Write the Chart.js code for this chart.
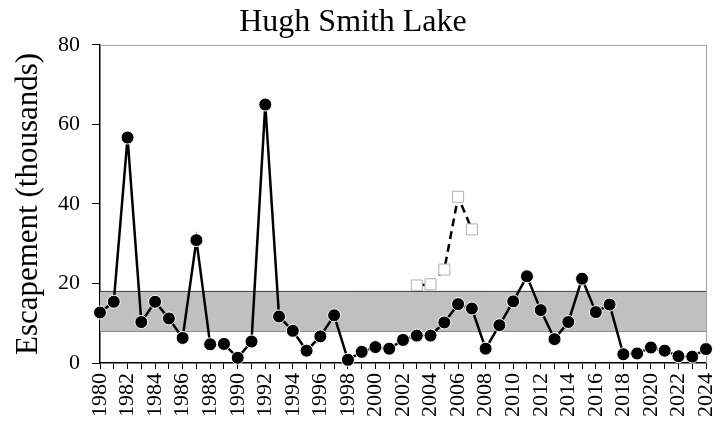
<!DOCTYPE html>
<html>
<head>
<meta charset="utf-8">
<title>Hugh Smith Lake</title>
<script src="https://cdn.jsdelivr.net/npm/chart.js@4"></script>
<style>
  html, body { margin: 0; padding: 0; background: #fff; }
  #wrap { width: 726px; height: 421px; position: relative; }
</style>
</head>
<body>
<div id="wrap"><canvas id="chart"></canvas></div>
<script>
// Escapement, thousands of fish, by year
const years = [
  1980, 1981, 1982, 1983, 1984, 1985, 1986, 1987, 1988, 1989,
  1990, 1991, 1992, 1993, 1994, 1995, 1996, 1997, 1998, 1999,
  2000, 2001, 2002, 2003, 2004, 2005, 2006, 2007, 2008, 2009,
  2010, 2011, 2012, 2013, 2014, 2015, 2016, 2017, 2018, 2019,
  2020, 2021, 2022, 2023, 2024
];
const escapement = [
  12.7, 15.4, 56.7, 10.3, 15.4, 11.2, 6.3, 30.9, 4.7, 4.8,
  1.3, 5.4, 65.0, 11.7, 8.1, 3.1, 6.7, 12.0, 0.8, 2.8,
  4.0, 3.6, 5.8, 6.9, 6.9, 10.2, 14.8, 13.7, 3.6, 9.5,
  15.5, 21.8, 13.3, 6.0, 10.3, 21.2, 12.8, 14.7, 2.2, 2.4,
  3.9, 3.1, 1.7, 1.6, 3.5
];

// Dashed series with open squares
const altYears = [2003, 2004, 2005, 2006, 2007];
const altValues = [19.5, 19.8, 23.5, 41.8, 33.6];

// Escapement goal range
const goalLower = 8;
const goalUpper = 18;

const yTicks = [0, 20, 40, 60, 80];

const SERIF = "'Liberation Serif', 'Times New Roman', serif";

// Light gray frame on top / right of the plot area
const framePlugin = {
  id: 'frame',
  beforeDatasetsDraw(chart) {
    const { ctx, chartArea } = chart;
    ctx.save();
    ctx.strokeStyle = '#a0a0a0';
    ctx.lineWidth = 1;
    ctx.beginPath();
    ctx.moveTo(chartArea.left, chartArea.top + 0.5);
    ctx.lineTo(chartArea.right + 0.5, chartArea.top + 0.5);
    ctx.lineTo(chartArea.right + 0.5, chartArea.bottom);
    ctx.stroke();
    ctx.restore();
  }
};

const toPoints = (xs, ys) => xs.map((x, i) => ({ x, y: ys[i] }));
const first = years[0], last = years[years.length - 1];

new Chart(document.getElementById('chart'), {
  type: 'line',
  data: {
    datasets: [
      {
        label: 'Alternate',
        data: toPoints(altYears, altValues),
        borderColor: '#000',
        borderWidth: 2.5,
        borderDash: [8, 5],
        pointStyle: 'rect',
        pointRadius: 7.8,
        pointBackgroundColor: '#fff',
        pointBorderColor: '#b0b0b0',
        pointBorderWidth: 1,
        order: 3,
        clip: false
      },
      {
        label: 'Goal upper',
        data: [{ x: first, y: goalUpper }, { x: last, y: goalUpper }],
        borderColor: '#404040',
        borderWidth: 1,
        pointRadius: 0,
        fill: '+1',
        backgroundColor: '#c0c0c0',
        order: 2
      },
      {
        label: 'Goal lower',
        data: [{ x: first, y: goalLower }, { x: last, y: goalLower }],
        borderColor: '#404040',
        borderWidth: 1,
        pointRadius: 0,
        fill: false,
        order: 2
      },
      {
        label: 'Escapement',
        data: toPoints(years, escapement),
        borderColor: '#000',
        borderWidth: 2.5,
        pointRadius: 6.5,
        pointBackgroundColor: '#000',
        pointBorderColor: '#fff',
        pointBorderWidth: 1,
        order: 1,
        clip: false
      }
    ]
  },
  options: {
    responsive: true,
    maintainAspectRatio: false,
    animation: false,
    layout: { padding: { left: 0, right: 20, top: 0, bottom: 0 } },
    plugins: {
      legend: { display: false },
      tooltip: { enabled: false },
      title: {
        display: true,
        text: 'Hugh Smith Lake',
        color: '#000',
        font: { family: SERIF, size: 32, weight: 'normal', lineHeight: 1.2 },
        padding: { top: 3, bottom: 3.5 }
      }
    },
    scales: {
      x: {
        type: 'linear',
        min: first,
        max: last,
        border: { color: '#000', width: 1.5 },
        grid: { drawOnChartArea: false, drawTicks: true, tickLength: 6, color: '#000' },
        ticks: {
          stepSize: 1,
          autoSkip: false,
          maxRotation: 90,
          minRotation: 90,
          padding: 4,
          color: '#000',
          font: { family: SERIF, size: 22 },
          callback: v => (v % 2 === 0 ? String(v) : '')
        },
        afterFit(scale) {
          scale.height = 58;
          scale.paddingLeft = 0;
          scale.paddingRight = 0;
        }
      },
      y: {
        min: 0,
        max: 80,
        border: { color: '#000', width: 1.5 },
        grid: { drawOnChartArea: false, drawTicks: true, tickLength: 8, color: '#000' },
        afterBuildTicks(scale) { scale.ticks = yTicks.map(v => ({ value: v })); },
        ticks: {
          padding: 12,
          color: '#000',
          font: { family: SERIF, size: 22 }
        },
        title: {
          display: true,
          text: 'Escapement (thousands)',
          color: '#000',
          font: { family: SERIF, size: 31, weight: 'normal', lineHeight: 1.2 },
          padding: { top: 10, bottom: 0 }
        },
        afterFit(scale) { scale.width = 100; }
      }
    }
  },
  plugins: [framePlugin]
});
</script>
</body>
</html>
